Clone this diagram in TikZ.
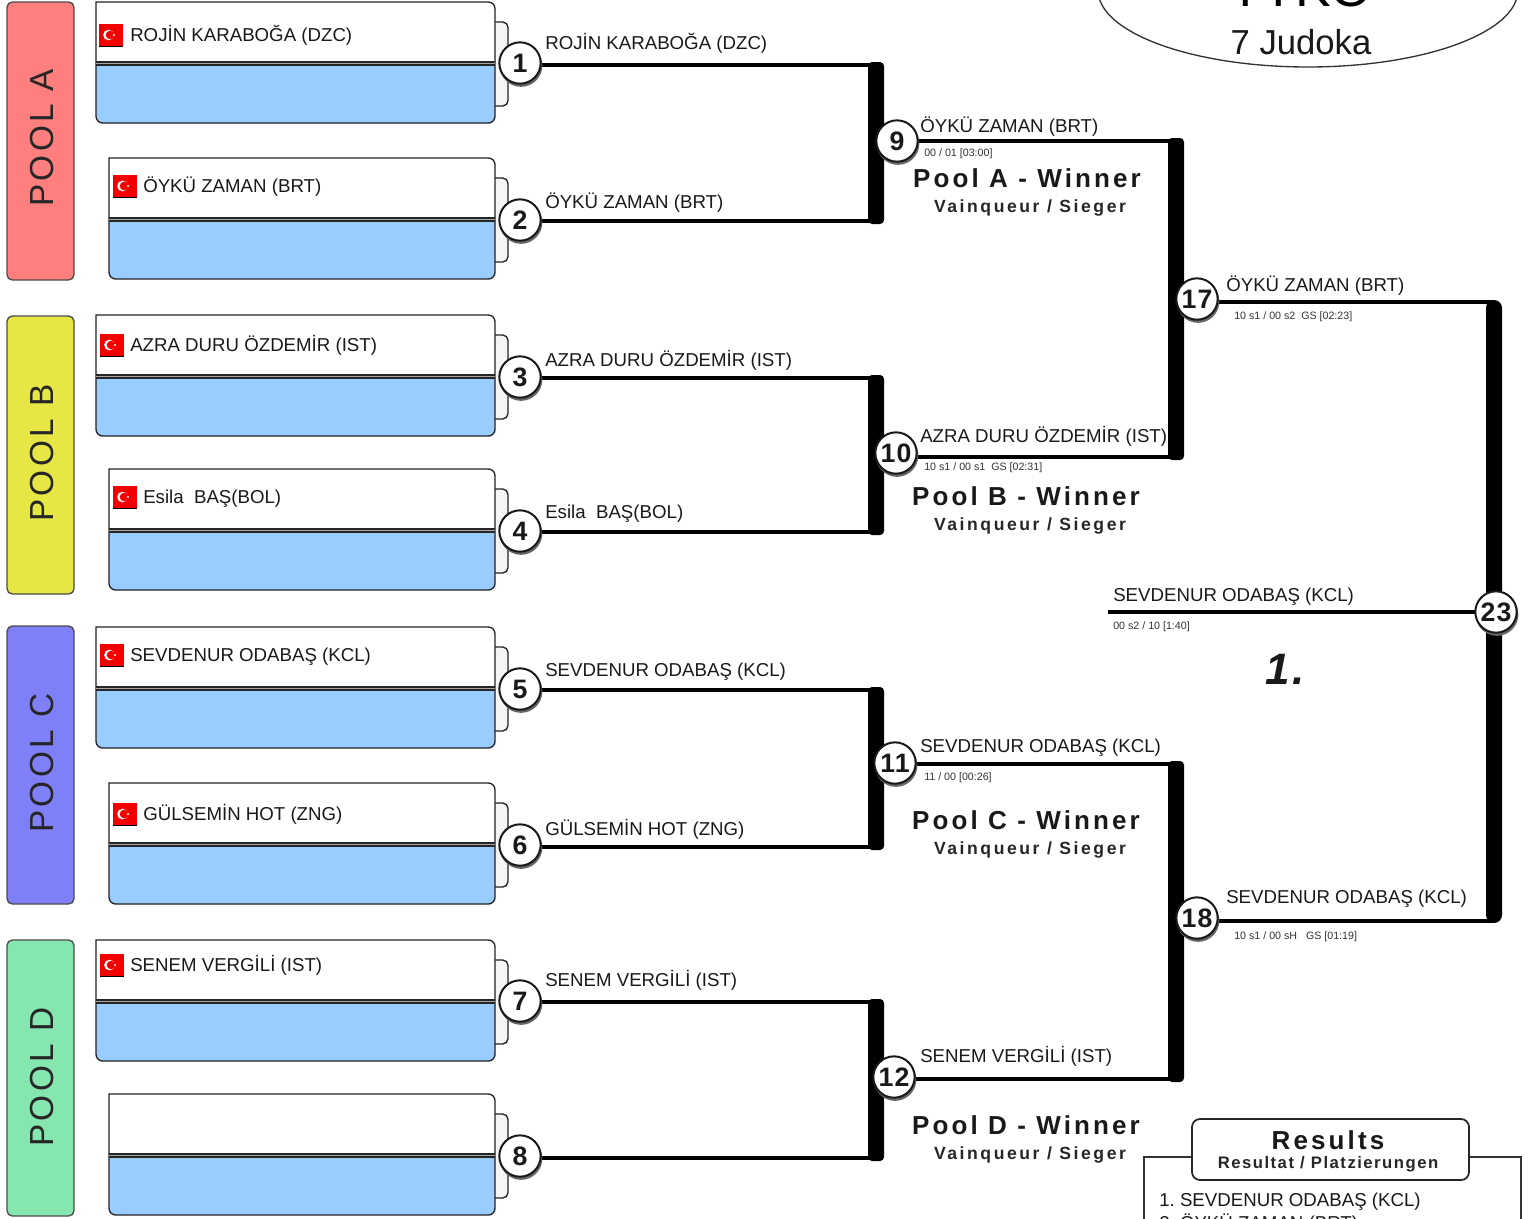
\documentclass[tikz,border=0pt]{standalone}
\usepackage{fontspec}
\usetikzlibrary{calc}
\setmainfont{Liberation Sans}
\newfontfamily\widefont[LetterSpace=12]{Liberation Sans}
\newfontfamily\subfont[LetterSpace=14.5]{Liberation Sans}
\newfontfamily\resfont[LetterSpace=9]{Liberation Sans}
\newfontfamily\poolfont[LetterSpace=10]{Liberation Sans}
\newfontfamily\seatfont[LetterSpace=5]{Liberation Sans}
\newcommand{\fsz}[1]{\fontsize{#1}{#1}\selectfont}
\definecolor{lineK}{HTML}{222222}
\definecolor{bluefill}{HTML}{99CCFF}
\definecolor{poolA}{HTML}{FF7F7F}
\definecolor{poolB}{HTML}{E6E645}
\definecolor{poolC}{HTML}{7F7FF7}
\definecolor{poolD}{HTML}{85E6B0}
\tikzset{
  nametext/.style={anchor=base west,inner sep=0pt,font=\fsz{14},text=black!90},
  tinytext/.style={anchor=west,inner sep=0pt,font=\fsz{8},text=black!80},
  winnertext/.style={inner sep=0pt,font=\widefont\bfseries\fsz{19.5},text=black!90},
  subtext/.style={inner sep=0pt,font=\subfont\bfseries\fsz{13.2},text=black!85},
  restext/.style={inner sep=0pt,font=\resfont\bfseries\fsz{12.5},text=black!85},
  seatnode/.style={circle,draw=black!90,line width=1.5pt,minimum size=31pt,inner sep=0pt,
    fill=white,font=\seatfont\bfseries\fsz{20},text=black!90},
  wireline/.style={draw=black,line width=3pt},
  barfill/.style={fill=black,rounded corners=3pt},
  poolbox/.style={draw=black!70,line width=1pt,rounded corners=4pt},
  poollabel/.style={rotate=90,inner sep=0pt,font=\poolfont\fsz{25},text=black!85},
  outlined/.style={draw=lineK,line width=1pt},
}
% player box: left x, top y
\newcommand{\pbox}[2]{%
  \draw[outlined,fill=black!4,rounded corners=4pt] (495,#2+20) -- (508,#2+20) -- (508,#2+104) -- (495,#2+104);
  \draw[outlined,fill=white] (#1,#2+61) -- (#1,#2) [rounded corners=5pt] -- (495,#2) -- (495,#2+30) [sharp corners] -- (495,#2+61) -- cycle;
  \draw[outlined,fill=bluefill] (#1,#2+62) -- (495,#2+62) [rounded corners=5pt] -- (495,#2+121) -- (#1,#2+121) [sharp corners] -- cycle;
  \draw[draw=black!85,line width=1.3pt] (#1,#2+60) -- (495,#2+60);
  \draw[draw=black!35,line width=.7pt] (#1,#2+61.6) -- (495,#2+61.6);
  \draw[draw=black!85,line width=1.3pt] (#1,#2+63.2) -- (495,#2+63.2);
}
% flag: left x, top y
\newcommand{\tflag}[2]{%
  \fill[black] (#1,#2) rectangle (#1+24,#2+23);
  \fill[red!95!black] (#1,#2) rectangle (#1+23.5,#2+22);
  \fill[white] (#1+9.5,#2+11) circle (4pt);
  \fill[red!95!black] (#1+11,#2+11) circle (3.2pt);
  \fill[white] (#1+15,#2+11) circle (.9pt);
}
\begin{document}
\frenchspacing
\begin{tikzpicture}[x=0.75pt,y=-0.75pt]
\path[use as bounding box] (0,0) rectangle (1530,1218);
\clip (0,0) rectangle (1530,1218);
\fill[white] (0,0) rectangle (1530,1218);

% pools
\draw[poolbox,fill=poolA] (7,2) rectangle (74,280);
\draw[poolbox,fill=poolB] (7,316) rectangle (74,594);
\draw[poolbox,fill=poolC] (7,626) rectangle (74,904);
\draw[poolbox,fill=poolD] (7,940) rectangle (74,1216);
\node[poollabel] (pa) at (42,138) {POOL A};
\node[poollabel] (pb) at (42,453) {POOL B};
\node[poollabel] (pc) at (42,763) {POOL C};
\node[poollabel] (pd) at (42,1077) {POOL D};

% boxes
\pbox{96}{2}
\pbox{109}{158}
\pbox{96}{315}
\pbox{109}{469}
\pbox{96}{627}
\pbox{109}{783}
\pbox{96}{940}
\pbox{109}{1094}

\tflag{99}{24}
\tflag{113}{175}
\tflag{100}{334}
\tflag{113}{486}
\tflag{100}{644}
\tflag{113}{803}
\tflag{100}{954}

\node[nametext] (n1) at (130,41) {ROJİN KARABOĞA (DZC)};
\node[nametext] (n2) at (143,192) {ÖYKÜ ZAMAN (BRT)};
\node[nametext] (n3) at (130,351) {AZRA DURU ÖZDEMİR (IST)};
\node[nametext] (n4) at (143,503) {Esila\ \ BAŞ(BOL)};
\node[nametext] (n5) at (130,661) {SEVDENUR ODABAŞ (KCL)};
\node[nametext] (n6) at (143,820) {GÜLSEMİN HOT (ZNG)};
\node[nametext] (n7) at (130,971) {SENEM VERGİLİ (IST)};

% junctions
\coordinate (j1) at (876,65);
\coordinate (j2) at (876,221);
\coordinate (j3) at (876,378);
\coordinate (j4) at (876,532);
\coordinate (j5) at (876,690);
\coordinate (j6) at (876,847);
\coordinate (j7) at (876,1002);
\coordinate (j8) at (876,1158);
\coordinate (j9) at (1176,141);
\coordinate (j10) at (1176,457);
\coordinate (j11) at (1176,764);
\coordinate (j12) at (1176,1079);
\coordinate (j17) at (1494,302);
\coordinate (j18) at (1494,921);
\coordinate (final) at (1108,612);

\path (520,63) coordinate (c1) (520,220) coordinate (c2) (520,377) coordinate (c3) (520,531) coordinate (c4)
      (520,689) coordinate (c5) (520,845) coordinate (c6) (520,1001) coordinate (c7) (520,1156) coordinate (c8)
      (897,141) coordinate (c9) (896,453) coordinate (c10) (895,763) coordinate (c11) (894,1077) coordinate (c12)
      (1197,299) coordinate (c17) (1197,918) coordinate (c18) (1496,612) coordinate (c23);

\foreach \a/\b in {c1/j1,c2/j2,c3/j3,c4/j4,c5/j5,c6/j6,c7/j7,c8/j8,c9/j9,c10/j10,c11/j11,c12/j12,c17/j17,c18/j18}
  \draw[wireline] (\a |- \b) -- (\b);
\draw[wireline] (final) -- (c23);

\foreach \a/\b in {j1/j2,j3/j4,j5/j6,j7/j8,j9/j10,j11/j12}
  \fill[barfill] ($(\a)+(-8,-3)$) rectangle ($(\b)+(8,3)$);
\fill[barfill,rounded corners=6pt] ($(j17)+(-8,-2)$) rectangle ($(j18)+(8,2)$);

% seats
\foreach \p/\t in {c1/1,c2/2,c3/3,c4/4,c5/5,c6/6,c7/7,c8/8,c9/9,c10/10,c11/11,c12/12,c17/17,c18/18,c23/23}{
  \fill[black!60] ($(\p)+(1,2.5)$) circle (16pt);
  \node[seatnode] (s\t) at (\p) {\t};
}

% names on lines
\node[nametext] (l1) at (545,49) {ROJİN KARABOĞA (DZC)};
\node[nametext] (l2) at (545,208) {ÖYKÜ ZAMAN (BRT)};
\node[nametext] (l3) at (545,366) {AZRA DURU ÖZDEMİR (IST)};
\node[nametext] (l4) at (545,518) {Esila\ \ BAŞ(BOL)};
\node[nametext] (l5) at (545,676) {SEVDENUR ODABAŞ (KCL)};
\node[nametext] (l6) at (545,835) {GÜLSEMİN HOT (ZNG)};
\node[nametext] (l7) at (545,986) {SENEM VERGİLİ (IST)};
\node[nametext] (l9) at (920,132) {ÖYKÜ ZAMAN (BRT)};
\node[nametext] (l10) at (920,442) {AZRA DURU ÖZDEMİR (IST)};
\node[nametext] (l11) at (920,752) {SEVDENUR ODABAŞ (KCL)};
\node[nametext] (l12) at (920,1062) {SENEM VERGİLİ (IST)};
\node[nametext] (l17) at (1226,291) {ÖYKÜ ZAMAN (BRT)};
\node[nametext] (l18) at (1226,903) {SEVDENUR ODABAŞ (KCL)};
\node[nametext] (l23) at (1113,601) {SEVDENUR ODABAŞ (KCL)};

\node[tinytext] (t9) at (924,153.5) {00 / 01 [03:00]};
\node[tinytext] (t10) at (924,467.5) {10 s1 / 00 s1\ \ GS [02:31]};
\node[tinytext] (t11) at (924,777.5) {11 / 00 [00:26]};
\node[tinytext] (t17) at (1234,316.5) {10 s1 / 00 s2\ \ GS [02:23]};
\node[tinytext] (t18) at (1234,936.5) {10 s1 / 00 sH\ \ \ GS [01:19]};
\node[tinytext] (t23) at (1113,626.5) {00 s2 / 10 [1:40]};

\node[winnertext] (wa) at (1027,178) {Pool A - Winner};
\node[subtext] (va) at (1030,208) {Vainqueur / Sieger};
\node[winnertext] (wb) at (1026,496) {Pool B - Winner};
\node[subtext] (vb) at (1030,526) {Vainqueur / Sieger};
\node[winnertext] (wc) at (1026,820) {Pool C - Winner};
\node[subtext] (vc) at (1030,850) {Vainqueur / Sieger};
\node[winnertext] (wd) at (1026,1125) {Pool D - Winner};
\node[subtext] (vd) at (1030,1155) {Vainqueur / Sieger};

\node[inner sep=0pt,font=\bfseries\itshape\fsz{33},text=black!90] (first) at (1285,669) {1\kern2pt.};

% title ellipse
\draw[draw=black!80,line width=1pt,fill=white] (1308,-10) ellipse [x radius=210,y radius=77];
\node[anchor=base,inner sep=0pt,font=\fsz{40},text=black] (title) at (1301,6) {TTKO};
\node[anchor=base,inner sep=0pt,font=\fsz{26},text=black!90] (count) at (1301,54) {7 Judoka};

% results
\draw[draw=black!80,line width=1.2pt,fill=white] (1144,1240) -- (1144,1157) -- (1521,1157) -- (1521,1240);
\draw[draw=black!85,line width=1.3pt,fill=white,rounded corners=6pt] (1192,1119) rectangle (1469,1180);
\node[winnertext] (rt) at (1328,1140) {Results};
\node[restext] (rs) at (1328,1164) {Resultat / Platzierungen};
\node[nametext] (r1) at (1159,1206) {1. SEVDENUR ODABAŞ (KCL)};
\node[nametext] (r2) at (1159,1229) {2. ÖYKÜ ZAMAN (BRT)};
\end{tikzpicture}
\end{document}
